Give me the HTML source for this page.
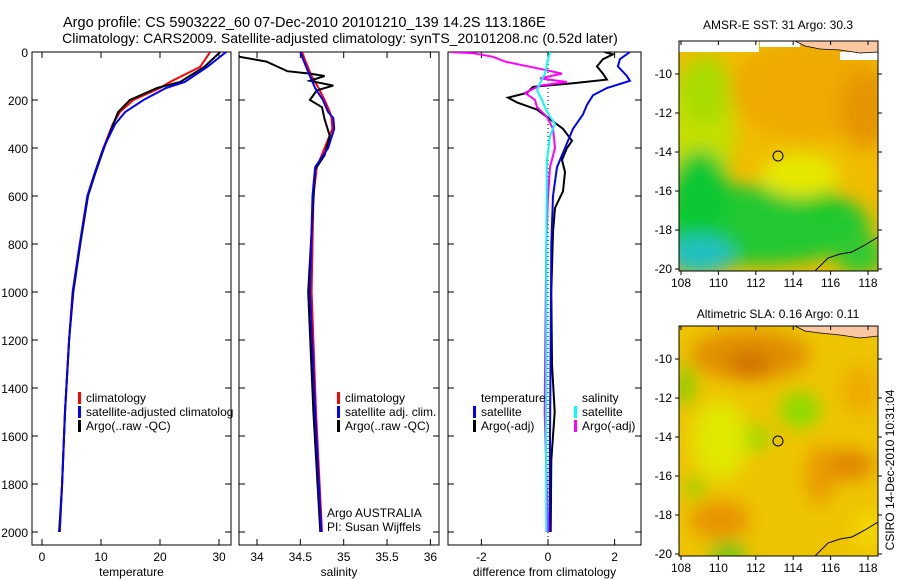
<!DOCTYPE html>
<html><head><meta charset="utf-8"><style>
body{margin:0;background:#fff;}
svg{display:block;font-family:"Liberation Sans",sans-serif;}
</style></head><body>
<svg id="s" width="900" height="580" viewBox="0 0 900 580" xmlns="http://www.w3.org/2000/svg">
<defs>
<filter id="bl" x="-50%" y="-50%" width="200%" height="200%"><feGaussianBlur stdDeviation="9"/></filter>
<clipPath id="c1"><rect x="32" y="52" width="199" height="493"/></clipPath>
<clipPath id="c2"><rect x="239" y="52" width="200" height="493"/></clipPath>
<clipPath id="c3"><rect x="448" y="52" width="193" height="493"/></clipPath>
<clipPath id="m1"><rect x="679" y="41" width="199" height="230"/></clipPath>
<clipPath id="m2"><rect x="679" y="326" width="199" height="230"/></clipPath>
</defs>
<text x="63" y="27" font-size="14.5">Argo profile: CS 5903222_60 07-Dec-2010 20101210_139 14.2S 113.186E</text>
<text x="340" y="43" font-size="14" text-anchor="middle">Climatology: CARS2009. Satellite-adjusted climatology: synTS_20101208.nc (0.52d later)</text>

<g id="p1"></g>
<g id="p2"></g>
<g id="p3"></g>

<!-- SST map -->
<text x="778" y="29" font-size="12" text-anchor="middle">AMSR-E SST: 31 Argo: 30.3</text>
<g clip-path="url(#m1)">
<rect x="679" y="41" width="199" height="230" fill="#f0bc00"/>
<g filter="url(#bl)">
<ellipse cx="810" cy="90" rx="80" ry="50" fill="#eeaa00"/>
<ellipse cx="865" cy="110" rx="25" ry="40" fill="#e69500"/>
<ellipse cx="700" cy="130" rx="35" ry="70" fill="#c4e000"/>
<ellipse cx="705" cy="90" rx="25" ry="35" fill="#a8dc00"/>
<ellipse cx="760" cy="225" rx="110" ry="40" fill="#20c830"/>
<ellipse cx="700" cy="195" rx="30" ry="45" fill="#10c830"/>
<ellipse cx="700" cy="255" rx="35" ry="20" fill="#20c0c0"/>
<ellipse cx="822" cy="200" rx="14" ry="16" fill="#10c820"/>
<ellipse cx="860" cy="255" rx="25" ry="20" fill="#30c830"/>
<ellipse cx="800" cy="175" rx="40" ry="22" fill="#e6e800"/>
</g>
<rect x="679" y="41" width="80" height="11" fill="#fff"/>
<rect x="760" y="41" width="40" height="6" fill="#fff"/>
<rect x="840" y="52" width="38" height="8" fill="#fff"/>
<path d="M795 41 L878 41 L878 52 L860 53 L840 50 L820 49 L805 46 Z" fill="#f9c8a0" stroke="#000" stroke-width="0.7"/>
<path d="M815 271 L828 258 L840 254 L852 252 L865 245 L878 237" fill="none" stroke="#000" stroke-width="1"/>
<circle cx="778" cy="156" r="5" fill="none" stroke="#000" stroke-width="1"/>
</g>
<rect x="679" y="41" width="199" height="230" fill="none" stroke="#000"/>
<g id="m1ax"></g>

<!-- SLA map -->
<text x="778" y="318" font-size="12" text-anchor="middle">Altimetric SLA: 0.16 Argo: 0.11</text>
<g clip-path="url(#m2)">
<rect x="679" y="326" width="199" height="230" fill="#eec400"/>
<g filter="url(#bl)">
<ellipse cx="750" cy="355" rx="60" ry="25" fill="#e08e00"/>
<ellipse cx="750" cy="365" rx="20" ry="14" fill="#d27000"/>
<ellipse cx="845" cy="465" rx="30" ry="15" fill="#e08400"/>
<ellipse cx="820" cy="475" rx="14" ry="30" fill="#e89a00"/>
<ellipse cx="720" cy="520" rx="30" ry="20" fill="#e89400"/>
<ellipse cx="860" cy="390" rx="18" ry="25" fill="#eeaa00"/>
<ellipse cx="720" cy="440" rx="28" ry="40" fill="#e0e800"/>
<ellipse cx="800" cy="410" rx="20" ry="18" fill="#88dc00"/>
<ellipse cx="757" cy="438" rx="12" ry="12" fill="#90dc00"/>
<ellipse cx="686" cy="385" rx="6" ry="22" fill="#50d000"/>
<ellipse cx="695" cy="488" rx="8" ry="10" fill="#70d800"/>
<ellipse cx="728" cy="552" rx="18" ry="8" fill="#20c820"/>
<ellipse cx="870" cy="530" rx="18" ry="20" fill="#f2d600"/>
</g>
<path d="M795 326 L878 326 L878 336 L860 338 L840 335 L820 333 L805 331 Z" fill="#f9c8a0" stroke="#000" stroke-width="0.7"/>
<path d="M815 556 L828 543 L840 539 L852 537 L865 530 L878 522" fill="none" stroke="#000" stroke-width="1"/>
<circle cx="778" cy="441" r="5" fill="none" stroke="#000" stroke-width="1"/>
</g>
<rect x="679" y="326" width="199" height="230" fill="none" stroke="#000"/>
<g id="m2ax"></g>
<text transform="translate(894,470) rotate(-90)" font-size="12" text-anchor="middle">CSIRO 14-Dec-2010 10:31:04</text>
</svg>
<script>
// ---- data ----
const tempDepth = [0,62,125,150,200,250,300,400,500,600,800,1000,1200,1500,1800,2000];
const tempClim  = [28.5,26.8,21.7,20.0,15.5,13.2,12.0,10.4,9.0,7.7,6.4,5.2,4.6,3.9,3.4,3.0];
const tempSat   = [31.2,28.0,24.2,21.0,17.2,14.1,12.4,10.4,9.0,7.7,6.4,5.2,4.6,3.9,3.4,3.0];
const tempArgo  = [30.2,27.5,23.4,19.5,14.9,12.9,12.1,10.5,9.1,7.8,6.5,5.3,4.6,3.9,3.4,2.9];

const salDepth = [0,30,100,150,200,250,275,320,400,480,600,1000,1500,2000];
const salClim  = [34.52,34.55,34.63,34.71,34.78,34.84,34.86,34.87,34.78,34.69,34.65,34.63,34.68,34.75];
const salSat   = [34.50,34.53,34.61,34.67,34.76,34.82,34.88,34.89,34.82,34.67,34.64,34.61,34.67,34.74];
const salArgoDepth = [0,20,40,60,80,90,100,120,140,160,200,230,280,350,430,490,1000,1500,2000];
const salArgo      = [33.75,33.8,34.11,34.23,34.35,34.61,34.78,34.61,34.88,34.69,34.61,34.75,34.78,34.84,34.78,34.67,34.59,34.65,34.73];

const dTSatDepth = [0,30,60,100,120,150,180,220,260,320,400,480,600,800,1200,1600,2000];
const dTSat      = [2.46,2.16,2.1,2.37,2.46,1.77,1.35,1.17,1.05,0.75,0.51,0.27,0.15,0.1,0.08,0.06,0.05];
const dTArgoDepth = [0,10,30,60,90,115,130,145,170,190,210,240,280,320,370,400,450,500,580,650,750,1000,1300,1500,1700,2000];
const dTArgo      = [1.7,1.95,1.65,1.47,1.65,1.77,0.75,-0.45,-0.63,-1.2,-0.93,-0.33,0.06,0.45,0.72,0.57,0.42,0.51,0.45,0.21,0.15,0.1,0.12,0.2,0.1,0.08];
const dSSatDepth = [0,50,90,130,160,200,250,300,350,450,800,1200,1600,2000];
const dSSat      = [0.06,-0.03,-0.09,-0.24,-0.33,-0.18,-0.03,0.21,0.06,-0.03,-0.05,-0.05,-0.06,-0.05];
const dSArgoDepth = [0,5,20,40,70,90,110,125,140,170,200,230,270,320,400,480,600,800,1200,1500,2000];
const dSArgo      = [-2.94,-2.25,-1.65,-1.29,-0.24,0.42,-0.24,0.57,-0.24,-0.69,-0.39,-0.33,-0.03,0.15,0.21,0.06,0.0,-0.05,-0.08,-0.1,0.0];

const depthTicks = [0,200,400,600,800,1000,1200,1400,1600,1800,2000];
const tempTicks = [0,10,20,30];
const salTicks = [34,34.5,35,35.5,36];
const diffTicks = [-2,0,2];
const lonTicks = [108,110,112,114,116,118];
const latTicks = [-10,-12,-14,-16,-18,-20];

// ---- helpers ----
const NS='http://www.w3.org/2000/svg';
function mk(tag, attrs, parent){const e=document.createElementNS(NS,tag);for(const k in attrs)e.setAttribute(k,attrs[k]);parent.appendChild(e);return e;}
const yD = d => 52 + d*0.24;
const xT = t => 42 + 5.9*t;
const xS = s => 257 + 86.7*(s-34);
const xF = v => 548 + 33.3*v;

function line(g, depths, vals, xf, color, w, clip, name){
  const pts = depths.map((d,i)=>xf(vals[i]).toFixed(1)+','+yD(d).toFixed(1)).join(' ');
  const p = mk('polyline',{points:pts,fill:'none',stroke:color,'stroke-width':w,'clip-path':'url(#'+clip+')'},g);
  
  
}
function frame(g,x0,x1,ticks,xf,label,labName,showDepth){
  const r=mk('rect',{x:x0,y:52,width:x1-x0,height:493,fill:'none',stroke:'#000','stroke-width':1},g);
  
  
  ticks.forEach(t=>{const x=xf(t);
    mk('line',{x1:x,x2:x,y1:545,y2:539,stroke:'#000'},g);
    mk('line',{x1:x,x2:x,y1:52,y2:58,stroke:'#000'},g);
    const tx=mk('text',{x:x,y:561,'font-size':12,'text-anchor':'middle'},g);tx.textContent=t;
    
    
  });
  depthTicks.forEach(d=>{const y=yD(d);
    mk('line',{x1:x0,x2:x0+6,y1:y,y2:y,stroke:'#000'},g);
    mk('line',{x1:x1,x2:x1-6,y1:y,y2:y,stroke:'#000'},g);
    if(showDepth){const tx=mk('text',{x:28,y:y+5,'font-size':12,'text-anchor':'end'},g);tx.textContent=d;
      
      }
  });
  const lt=mk('text',{x:(x0+x1)/2,y:576,'font-size':12,'text-anchor':'middle'},g);lt.textContent=label;
  
  
}
function leg(g,x,y,color,txt,name){
  if(color) mk('rect',{x:x,y:y-10,width:3,height:12,fill:color},g);
  const t=mk('text',{x:x+8,y:y,'font-size':12},g);t.textContent=txt;
  
  
}

// panel 1
const p1=document.getElementById('p1');
frame(p1,32,231,tempTicks,xT,'temperature','temperature',true);
line(p1,tempDepth,tempClim,xT,'#f00',2,'c1','temp-climatology-line');
line(p1,tempDepth,tempArgo,xT,'#000',2,'c1','temp-argo-line');
line(p1,tempDepth,tempSat,xT,'#00f',2,'c1','temp-satellite-line');
leg(p1,78,402,'#f00','climatology','legend-climatology');
leg(p1,78,416,'#00f','satellite-adjusted climatolog','legend-satellite-adjusted');
leg(p1,78,430,'#000','Argo(..raw -QC)','legend-argo');

// panel 2
const p2=document.getElementById('p2');
frame(p2,239,439,salTicks,xS,'salinity','salinity',false);
line(p2,salDepth,salClim,xS,'#f00',2,'c2','sal-climatology-line');
line(p2,salArgoDepth,salArgo,xS,'#000',2,'c2','sal-argo-line');
line(p2,salDepth,salSat,xS,'#00f',2,'c2','sal-satellite-line');
leg(p2,337,402,'#f00','climatology','legend-sal-climatology');
leg(p2,337,416,'#00f','satellite adj. clim.','legend-sal-satellite');
leg(p2,337,430,'#000','Argo(..raw -QC)','legend-sal-argo');
leg(p2,319,517,null,'Argo AUSTRALIA','credit-argo-australia');
leg(p2,319,531,null,'PI: Susan Wijffels','credit-pi');

// panel 3
const p3=document.getElementById('p3');
frame(p3,448,641,diffTicks,xF,'difference from climatology','difference',false);
mk('line',{x1:xF(0),x2:xF(0),y1:52,y2:545,stroke:'#000','stroke-dasharray':'1,3'},p3);
line(p3,dTArgoDepth,dTArgo,xF,'#000',2,'c3','diff-temp-argo-line');
line(p3,dTSatDepth,dTSat,xF,'#00f',2,'c3','diff-temp-satellite-line');
line(p3,dSArgoDepth,dSArgo,xF,'#f0f',2,'c3','diff-sal-argo-line');
line(p3,dSSatDepth,dSSat,xF,'#0ff',2,'c3','diff-sal-satellite-line');
leg(p3,473,402,null,'temperature','legend-temperature-header');
leg(p3,473,416,'#00f','satellite','legend-temp-satellite');
leg(p3,473,430,'#000','Argo(-adj)','legend-temp-argo');
leg(p3,574,402,null,'salinity','legend-salinity-header');
leg(p3,574,416,'#0ff','satellite','legend-sal-sat');
leg(p3,574,430,'#f0f','Argo(-adj)','legend-sal-argo-adj');

// map axes
function mapAxes(id,top,lat10){
  const g=document.getElementById(id);
  const bottom=top+230;
  lonTicks.forEach(l=>{const x=681+18.7*(l-108);
    mk('line',{x1:x,x2:x,y1:bottom,y2:bottom+4,stroke:'#000'},g);
    mk('line',{x1:x,x2:x,y1:top,y2:top+4,stroke:'#000'},g);
    const t=mk('text',{x:x,y:bottom+16,'font-size':12,'text-anchor':'middle'},g);t.textContent=l;
    
    });
  latTicks.forEach(l=>{const y=lat10+19.5*(-10-l);
    mk('line',{x1:675,x2:679,y1:y,y2:y,stroke:'#000'},g);
    mk('line',{x1:878,x2:882,y1:y,y2:y,stroke:'#000'},g);
    const t=mk('text',{x:672,y:y+4,'font-size':12,'text-anchor':'end'},g);t.textContent=l;
    
    });
}
mapAxes('m1ax',41,74);
mapAxes('m2ax',326,359);
</script>
</body></html>
